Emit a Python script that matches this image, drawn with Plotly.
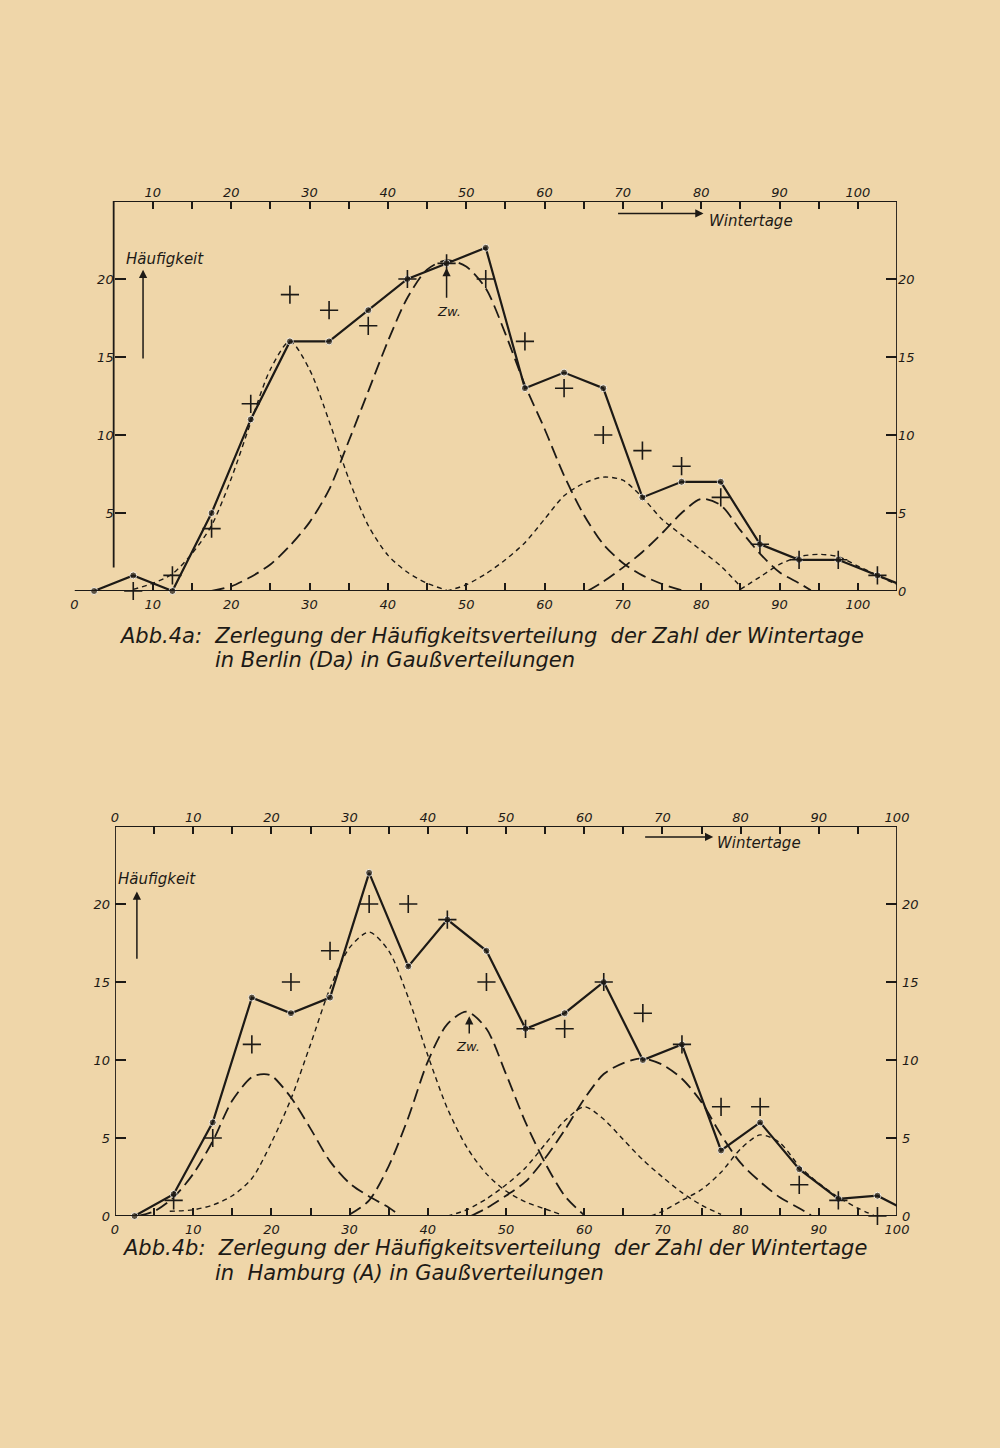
import plotly.graph_objects as go

berlin_mid = [2.5, 7.5, 12.5, 17.5, 22.5, 27.5, 32.5, 37.5, 42.5, 47.5, 52.5,
              57.5, 62.5, 67.5, 72.5, 77.5, 82.5, 87.5, 92.5, 97.5, 102.5, 107.5]
berlin_obs = [0, 1, 0, 5, 11, 16, 16, 18, 20, 21, 22,
              13, 14, 13, 6, 7, 7, 3, 2, 2, 1, 0]
berlin_sum = [None, 0, 1, 4, 12, 19, 18, 17, 20, 21, 20,
              16, 13, 10, 9, 8, 6, 3, 2, 2, 1, None]

hamburg_mid = [2.5, 7.5, 12.5, 17.5, 22.5, 27.5, 32.5, 37.5, 42.5, 47.5, 52.5,
               57.5, 62.5, 67.5, 72.5, 77.5, 82.5, 87.5, 92.5, 97.5, 102.5]
hamburg_obs = [0, 1.4, 6, 14, 13, 14, 22, 16, 19, 17, 12,
               13, 15, 10, 11, 4.2, 6, 3, 1.1, 1.3, 0]
hamburg_sum = [None, 1, 5, 11, 15, 17, 20, 20, 19, 15, 12,
               12, 15, 13, 11, 7, 7, 2, 1, 0, None]

# Gaußkomponenten Berlin (kurz = fein gestrichelt, lang = grob gestrichelt)
ba_x = [7.5, 10, 12.5, 15, 17.5, 20, 22.5, 25, 27.5, 30, 32.5, 35, 37.5, 40, 42.5, 45, 47.5]
ba_y = [0.1, 0.5, 1.1, 2.4, 4.2, 7.2, 10.8, 14.2, 16.0, 14.2, 10.9, 7.2, 4.2, 2.3, 1.2, 0.5, 0.05]
bb_x = [17.5, 20, 22.5, 25, 27.5, 30, 32.5, 35, 37.5, 40, 42.5, 45, 47.5,
        50, 52.5, 55, 57.5, 60, 62.5, 65, 67.5, 70, 72.5, 75, 77.5]
bb_y = [0, 0.3, 0.9, 1.7, 2.9, 4.4, 6.5, 9.6, 12.8, 16.0, 18.8, 20.6, 21.2,
        20.8, 19.4, 16.5, 13.2, 10.4, 7.4, 4.9, 3.0, 1.8, 1.0, 0.45, 0.05]
bc_x = [47.5, 50, 52.5, 55, 57.5, 60, 62.5, 65, 67.5, 70, 72.5, 75, 77.5, 80, 82.5, 85]
bc_y = [0, 0.4, 1.1, 2.0, 3.1, 4.6, 6.1, 6.9, 7.3, 7.1, 6.0, 4.6, 3.6, 2.6, 1.6, 0.3]
bd_x = [65.5, 67.5, 70, 72.5, 75, 77.5, 80, 82.5, 85, 87.5, 90, 92.5, 94]
bd_y = [0, 0.6, 1.5, 2.5, 3.7, 5.0, 5.9, 5.5, 3.9, 2.4, 1.2, 0.5, 0.05]
be_x = [85, 87.5, 90, 92.5, 95, 97.5, 100, 102.5, 105]
be_y = [0.1, 0.9, 1.7, 2.2, 2.35, 2.2, 1.6, 1.0, 0.4]

# Gaußkomponenten Hamburg
hf_x = [3, 5, 7.5, 10, 12.5, 15, 17.5, 19, 20, 22.5, 25, 27.5, 30, 32.5, 35, 36.5]
hf_y = [0, 0.3, 1.2, 2.7, 4.8, 7.4, 8.9, 9.1, 9.0, 7.6, 5.6, 3.5, 2.1, 1.25, 0.55, 0]
hg_x = [7, 10, 12.5, 15, 17.5, 20, 22.5, 25, 27.5, 30, 32.5, 35, 37.5,
        40, 42.5, 45, 47.5, 50, 52.5, 55, 57]
hg_y = [0.3, 0.4, 0.7, 1.3, 2.4, 4.7, 7.5, 11.0, 14.6, 17.2, 18.2, 17.0, 14.0,
        10.3, 6.9, 4.4, 2.7, 1.6, 0.9, 0.45, 0.1]
hh_x = [30, 32.5, 35, 37.5, 40, 42.5, 45, 47.5, 50, 52.5, 55, 57.5, 60]
hh_y = [0.1, 1.0, 3.2, 6.3, 9.9, 12.3, 13.1, 12.0, 9.1, 6.0, 3.4, 1.3, 0.05]
hi_x = [42.5, 45, 47.5, 50, 52.5, 55, 57.5, 60, 62.5, 65, 67.5, 70, 72.5, 75, 77.5]
hi_y = [0, 0.4, 1.1, 2.0, 3.1, 4.6, 6.1, 7.0, 6.2, 4.9, 3.6, 2.5, 1.5, 0.7, 0.1]
hj_x = [45.5, 47.5, 50, 52.5, 55, 57.5, 60, 62.5, 65, 67.5, 70, 72.5, 75,
        77.5, 80, 82.5, 85, 87.5, 89]
hj_y = [0, 0.5, 1.3, 2.2, 3.7, 5.5, 7.5, 9.1, 9.8, 10.1, 9.7, 8.8, 7.3,
        5.2, 3.4, 2.2, 1.2, 0.5, 0.05]
hk_x = [68.5, 70, 72.5, 75, 77.5, 80, 82.5, 85, 87.5, 90, 92.5, 95, 97]
hk_y = [0, 0.3, 1.0, 1.7, 2.8, 4.3, 5.2, 4.7, 3.2, 2.1, 1.2, 0.5, 0.05]

# Achsenbeschriftungen
berlin_bottom_ticks = [0, 10, 15, 20, 25, 30, 35, 40, 45, 50, 55, 60, 65, 70, 75, 80, 85, 90, 95, 100]
berlin_top_ticks = [10, 15, 20, 25, 30, 35, 40, 45, 50, 55, 60, 65, 70, 75, 80, 85, 90, 95, 100]
hamburg_ticks = [0, 5, 10, 15, 20, 25, 30, 35, 40, 45, 50, 55, 60, 65, 70, 75, 80, 85, 90, 95, 100]
y_ticks_left_berlin = [5, 10, 15, 20]
y_ticks = [0, 5, 10, 15, 20]

INK = "#1d1a16"
PAPER = "#efd6a9"
FONT = "DejaVu Sans, sans-serif"
SHORT = "5px,4px"
LONG = "13px,6px"


def labels(vals):
    return [str(v) if v % 10 == 0 else "" for v in vals]


def tick_axis(**kw):
    d = dict(showline=False, showgrid=False, zeroline=False, automargin=False,
             ticks="inside", tickcolor=INK, tickwidth=1.5, ticklen=8, layer="above traces",
             tickfont=dict(family=FONT, size=13, color=INK, style="italic"))
    d.update(kw)
    return d


fig = go.Figure()


def add_panel(xa, ya, xa2, ya2, mids, obs, sums, comps, xmax):
    for cx, cy, dash, w in comps:
        fig.add_trace(go.Scatter(x=cx, y=cy, mode="lines", xaxis=xa, yaxis=ya,
                                 line=dict(color=INK, width=w, dash=dash, shape="spline", smoothing=0.8),
                                 hoverinfo="skip", showlegend=False))
    fig.add_trace(go.Scatter(x=mids, y=obs, mode="lines", xaxis=xa, yaxis=ya,
                             line=dict(color=INK, width=2.2), showlegend=False))
    sizes = [7 if m <= xmax else 0 for m in mids]
    fig.add_trace(go.Scatter(x=mids, y=obs, mode="markers", xaxis=xa, yaxis=ya, cliponaxis=False,
                             marker=dict(color=INK, size=sizes), showlegend=False))
    # Kreuze auf den Zweitachsen (gleiche Skala), damit oben/rechts beschriftet wird
    fig.add_trace(go.Scatter(x=mids, y=sums, mode="markers", xaxis=xa2, yaxis=ya2, cliponaxis=False,
                             marker=dict(symbol="cross-thin", size=13, line=dict(color=INK, width=1.6)),
                             showlegend=False))


add_panel("x", "y", "x2", "y2", berlin_mid, berlin_obs, berlin_sum,
          [(ba_x, ba_y, SHORT, 1.4), (bb_x, bb_y, LONG, 1.8), (bc_x, bc_y, SHORT, 1.4),
           (bd_x, bd_y, LONG, 1.8), (be_x, be_y, SHORT, 1.4)], 105)
add_panel("x3", "y3", "x4", "y4", hamburg_mid, hamburg_obs, hamburg_sum,
          [(hf_x, hf_y, LONG, 1.8), (hg_x, hg_y, SHORT, 1.4), (hh_x, hh_y, LONG, 1.8),
           (hi_x, hi_y, SHORT, 1.4), (hj_x, hj_y, LONG, 1.8), (hk_x, hk_y, SHORT, 1.4)], 100)

W, H = 1000, 1448
top_dom = [1 - 591 / H, 1 - 201 / H]
bot_dom = [1 - 1216 / H, 1 - 826 / H]

fig.update_layout(
    width=W, height=H,
    margin=dict(l=0, r=0, t=0, b=0, autoexpand=False),
    paper_bgcolor=PAPER, plot_bgcolor="rgba(0,0,0,0)",
    showlegend=False,
    # Abb. 4a (Berlin)
    xaxis=tick_axis(domain=[0.0745, 0.897], range=[0, 105], anchor="y", ticklabelstandoff=4,
                    tickvals=berlin_bottom_ticks, ticktext=labels(berlin_bottom_ticks)),
    xaxis2=tick_axis(overlaying="x", side="top", anchor="y2", range=[0, 105],
                     tickvals=berlin_top_ticks, ticktext=labels(berlin_top_ticks)),
    yaxis=tick_axis(domain=top_dom, range=[0, 25], anchor="free", position=0.0745 + 5 * 0.8225 / 105,
                    tickvals=y_ticks_left_berlin, ticklen=11),
    yaxis2=tick_axis(overlaying="y", side="right", anchor="x2", range=[0, 25],
                     tickvals=y_ticks, ticklen=11),
    # Abb. 4b (Hamburg)
    xaxis3=tick_axis(domain=[0.115, 0.897], range=[0, 100], anchor="y3", ticklabelstandoff=4,
                     tickvals=hamburg_ticks, ticktext=labels(hamburg_ticks)),
    xaxis4=tick_axis(overlaying="x3", side="top", anchor="y4", range=[0, 100],
                     tickvals=hamburg_ticks, ticktext=labels(hamburg_ticks)),
    yaxis3=tick_axis(domain=bot_dom, range=[0, 25], anchor="x3", ticklabelstandoff=4,
                     tickvals=y_ticks, ticklen=11),
    yaxis4=tick_axis(overlaying="y3", side="right", anchor="x4", range=[0, 25], ticklabelstandoff=4,
                     tickvals=y_ticks, ticklen=11),
)

# Rahmen
frame = dict(type="line", line=dict(color=INK, width=1.8))
for xr, yr, x0, y0, x1, y1 in [
    ("x", "y", 0, 0, 105, 0), ("x", "y", 5, 25, 105, 25),
    ("x", "y", 5, 1.5, 5, 25), ("x", "y", 105, 0, 105, 25),
    ("x3", "y3", 0, 0, 100, 0), ("x3", "y3", 0, 25, 100, 25),
    ("x3", "y3", 0, 0, 0, 25), ("x3", "y3", 100, 0, 100, 25),
]:
    fig.add_shape(xref=xr, yref=yr, x0=x0, y0=y0, x1=x1, y1=y1, **frame)


def note(text, x, y, xr, yr, size=15, **kw):
    fig.add_annotation(text=text, x=x, y=y, xref=xr, yref=yr, showarrow=False,
                       font=dict(family=FONT, size=size, color=INK, style="italic"), **kw)


def arrow(x0, y0, x1, y1, xr, yr):
    fig.add_annotation(x=x1, y=y1, ax=x0, ay=y0, xref=xr, yref=yr, axref=xr, ayref=yr,
                       text="", showarrow=True, arrowhead=2, arrowsize=1.1,
                       arrowwidth=1.5, arrowcolor=INK)


# Beschriftungen Abb. 4a
arrow(8.75, 14.8, 8.75, 20.6, "x", "y")
note("Häufigkeit", 11.6, 21.3, "x", "y")
arrow(69.2, 24.2, 80.3, 24.2, "x", "y")
note("Wintertage", 86.3, 23.7, "x", "y")
arrow(47.5, 18.7, 47.5, 20.7, "x", "y")
note("Zw.", 47.8, 17.9, "x", "y", size=13)

# Beschriftungen Abb. 4b
arrow(2.8, 16.4, 2.8, 20.8, "x3", "y3")
note("Häufigkeit", 5.4, 21.6, "x3", "y3")
arrow(67.6, 24.3, 76.5, 24.3, "x3", "y3")
note("Wintertage", 82.4, 23.9, "x3", "y3")
arrow(45.3, 11.6, 45.3, 12.8, "x3", "y3")
note("Zw.", 45.1, 10.85, "x3", "y3", size=13)

# Bildunterschriften
note("Abb.4a:  Zerlegung der Häufigkeitsverteilung  der Zahl der Wintertage",
     0.117, 1 - 636 / H, "paper", "paper", size=21, xanchor="left")
note("in Berlin (Da) in Gaußverteilungen",
     0.213, 1 - 660 / H, "paper", "paper", size=21, xanchor="left")
note("Abb.4b:  Zerlegung der Häufigkeitsverteilung  der Zahl der Wintertage",
     0.120, 1 - 1262 / H, "paper", "paper", size=21, xanchor="left")
note("in  Hamburg (A) in Gaußverteilungen",
     0.213, 1 - 1287 / H, "paper", "paper", size=21, xanchor="left")

fig.write_html("out.html", config={"displayModeBar": False},
               post_script="document.body.style.margin='0';"
                           "document.documentElement.style.overflow='hidden';"
                           "document.body.style.overflow='hidden';"
                           "document.body.style.background='" + PAPER + "';")
